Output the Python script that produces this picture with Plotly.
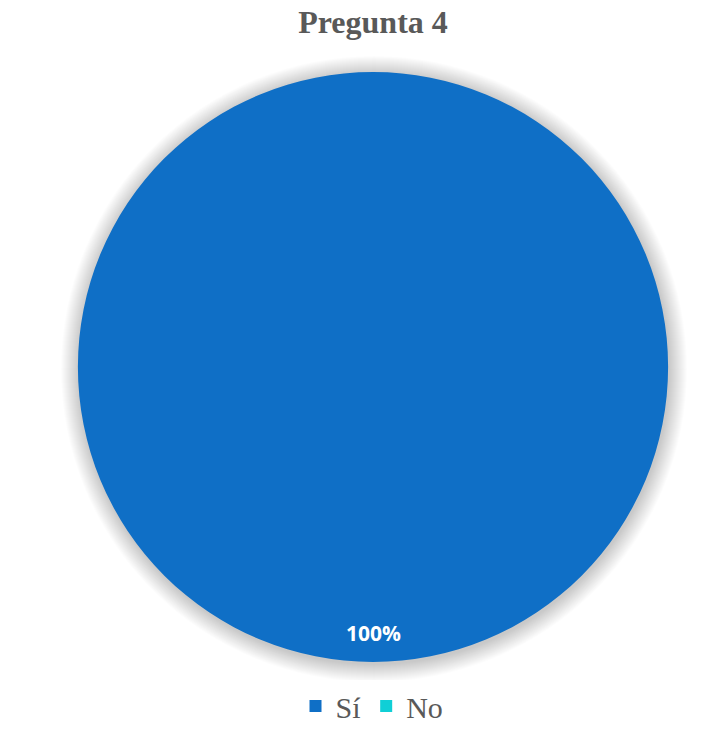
import plotly.graph_objects as go

labels = ["Sí", "No"]
values = [100, 0]
colors = ["#0F6FC6", "#10CFD6"]
title = "Pregunta 4"

W, H = 720, 732
# pie box in pixels
px0, px1, py0, py1 = 78, 668, 72, 662

total = sum(values)
pct = [f"{round(100 * v / total)}%" for v in values]

fig = go.Figure(go.Pie(
    labels=labels,
    values=values,
    marker=dict(colors=colors, line=dict(width=0)),
    textinfo="none",
    sort=False,
    direction="clockwise",
    domain=dict(x=[px0 / W, px1 / W], y=[1 - py1 / H, 1 - py0 / H]),
    showlegend=True,
))

# soft shadow around the pie
cx, cy, r = (px0 + px1) / 2, (py0 + py1) / 2, (px1 - px0) / 2
shapes = []
for k in range(18, 0, -1):
    rr = r + k
    shapes.append(dict(
        type="circle", xref="paper", yref="paper", layer="below",
        x0=(cx - rr + 1) / W, x1=(cx + rr + 1) / W,
        y0=1 - (cy + rr + 2) / H, y1=1 - (cy - rr + 2) / H,
        fillcolor="rgba(0,0,0,0.011)", line=dict(width=0),
    ))

fig.update_layout(
    width=W, height=H,
    paper_bgcolor="white",
    margin=dict(l=0, r=0, t=0, b=0, autoexpand=False),
    title=dict(text=f"<b>{title}</b>", x=373 / W, xanchor="center",
               y=1 - 22 / H, yanchor="middle",
               font=dict(family="Liberation Serif", size=32, color="#595959")),
    legend=dict(orientation="h", x=372 / W, xanchor="center",
                y=0, yanchor="bottom",
                font=dict(family="Liberation Serif", size=30, color="#595959"),
                itemwidth=30, tracegroupgap=0),
    shapes=shapes,
    annotations=[dict(text=f"<b>{pct[0]}</b>", xref="paper", yref="paper",
                      x=373 / W, y=1 - 633 / H, yanchor="middle", showarrow=False,
                      font=dict(family="Open Sans", size=21, color="white"))],
)

fig.write_html("out.html", config={"displayModeBar": False},
               post_script="document.body.style.margin='0';")
